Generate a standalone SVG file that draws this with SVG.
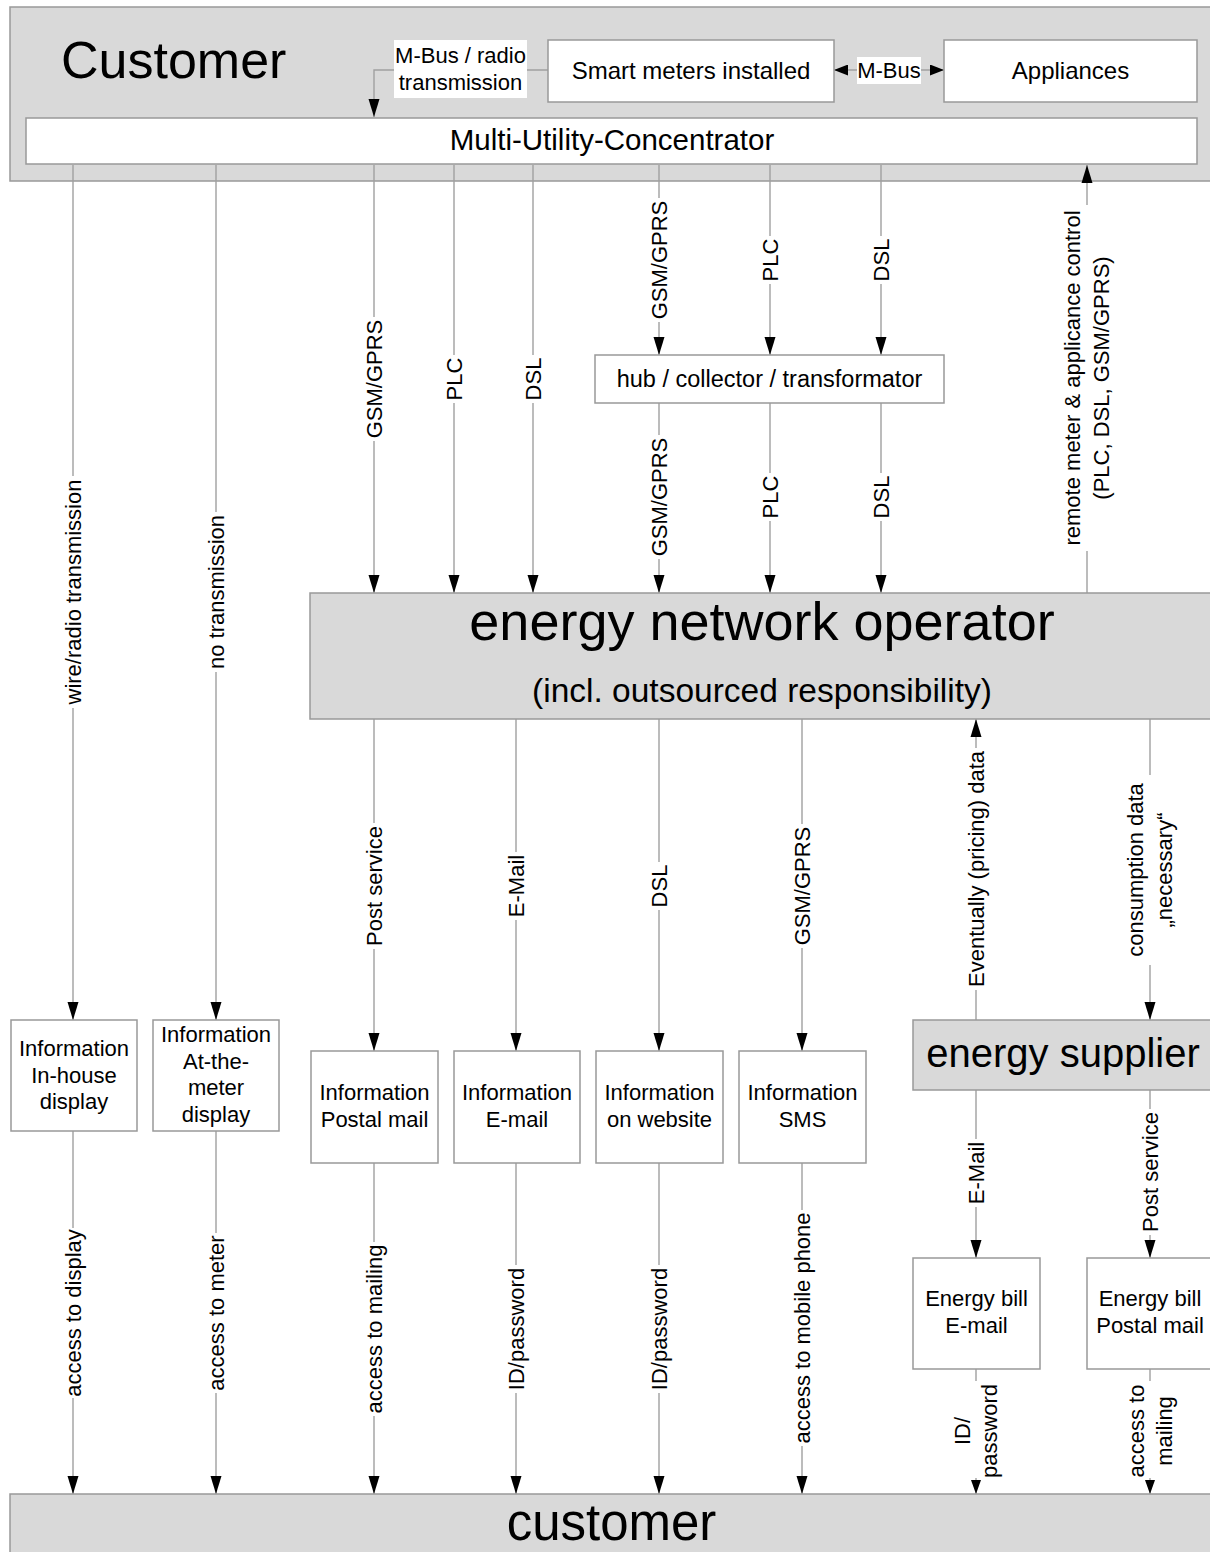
<svg xmlns="http://www.w3.org/2000/svg" width="1210" height="1552" viewBox="0 0 1210 1552">
<defs>
<style>
text{font-family:"Liberation Sans",Arial,sans-serif;fill:#000}
.gb{fill:#d9d9d9;stroke:#999;stroke-width:1.5}
.wb{fill:#fff;stroke:#999;stroke-width:1.5}
.ln{stroke:#a0a0a0;stroke-width:1.4;fill:none}
.ar{marker-end:url(#arr)}
.as{marker-end:url(#arrs)}
.t22{font-size:22px}
.vl{font-size:22px;text-anchor:middle}
.c{text-anchor:middle}
</style>
<marker id="arr" markerUnits="userSpaceOnUse" markerWidth="18" markerHeight="12" refX="18" refY="6" orient="auto"><path d="M0,0.5 L18,6 L0,11.5 z" fill="#000"/></marker>
<marker id="arrs" markerUnits="userSpaceOnUse" markerWidth="14" markerHeight="10" refX="14" refY="5" orient="auto"><path d="M0,0 L14,5 L0,10 z" fill="#000"/></marker>
<marker id="arrm" markerUnits="userSpaceOnUse" markerWidth="14" markerHeight="11" refX="14" refY="5.5" orient="auto-start-reverse"><path d="M0,0 L14,5.5 L0,11 z" fill="#000"/></marker>
</defs>
<rect width="1210" height="1552" fill="#fff"/>

<g id="customer-top">
<rect class="gb" x="10" y="7" width="1210" height="174"/>
<text x="61" y="78" font-size="52">Customer</text>
</g>

<g id="connectors">
<!-- top internal -->
<polyline class="ln ar" points="548,70 374,70 374,117"/>
<line class="ln" x1="834" y1="70" x2="944" y2="70" marker-start="url(#arrm)" marker-end="url(#arrm)"/>
<!-- MUC to bottom-left boxes -->
<line class="ln" x1="73" y1="165" x2="73" y2="476"/><line class="ln ar" x1="73" y1="708" x2="73" y2="1020"/>
<line class="ln" x1="216" y1="165" x2="216" y2="512"/><line class="ln ar" x1="216" y1="672" x2="216" y2="1020"/>
<!-- MUC to ENO -->
<line class="ln" x1="374" y1="165" x2="374" y2="317"/><line class="ln ar" x1="374" y1="441" x2="374" y2="593"/>
<line class="ln" x1="454" y1="165" x2="454" y2="355"/><line class="ln ar" x1="454" y1="403" x2="454" y2="593"/>
<line class="ln" x1="533" y1="165" x2="533" y2="355"/><line class="ln ar" x1="533" y1="403" x2="533" y2="593"/>
<!-- MUC to hub -->
<line class="ln" x1="659" y1="165" x2="659" y2="198"/><line class="ln ar" x1="659" y1="322" x2="659" y2="355"/>
<line class="ln" x1="770" y1="165" x2="770" y2="236"/><line class="ln ar" x1="770" y1="284" x2="770" y2="355"/>
<line class="ln" x1="881" y1="165" x2="881" y2="236"/><line class="ln ar" x1="881" y1="284" x2="881" y2="355"/>
<!-- hub to ENO -->
<line class="ln" x1="659" y1="403" x2="659" y2="435"/><line class="ln ar" x1="659" y1="559" x2="659" y2="593"/>
<line class="ln" x1="770" y1="403" x2="770" y2="473"/><line class="ln ar" x1="770" y1="521" x2="770" y2="593"/>
<line class="ln" x1="881" y1="403" x2="881" y2="473"/><line class="ln ar" x1="881" y1="521" x2="881" y2="593"/>
<!-- remote control ENO to MUC -->
<line class="ln" x1="1087" y1="593" x2="1087" y2="551"/><line class="ln ar" x1="1087" y1="205" x2="1087" y2="165"/>
<!-- ENO to info boxes -->
<line class="ln" x1="374" y1="719" x2="374" y2="823"/><line class="ln ar" x1="374" y1="949" x2="374" y2="1051"/>
<line class="ln" x1="516" y1="719" x2="516" y2="852"/><line class="ln ar" x1="516" y1="920" x2="516" y2="1051"/>
<line class="ln" x1="659" y1="719" x2="659" y2="862"/><line class="ln ar" x1="659" y1="910" x2="659" y2="1051"/>
<line class="ln" x1="802" y1="719" x2="802" y2="824"/><line class="ln ar" x1="802" y1="948" x2="802" y2="1051"/>
<!-- supplier <-> ENO -->
<line class="ln" x1="976" y1="1020" x2="976" y2="990"/><line class="ln ar" x1="976" y1="748" x2="976" y2="719"/>
<line class="ln" x1="1150" y1="719" x2="1150" y2="775"/><line class="ln ar" x1="1150" y1="965" x2="1150" y2="1020"/>
<!-- boxes to customer -->
<line class="ln" x1="73" y1="1131" x2="73" y2="1228"/><line class="ln ar" x1="73" y1="1398" x2="73" y2="1494"/>
<line class="ln" x1="216" y1="1131" x2="216" y2="1233"/><line class="ln ar" x1="216" y1="1393" x2="216" y2="1494"/>
<line class="ln" x1="374" y1="1163" x2="374" y2="1242"/><line class="ln ar" x1="374" y1="1416" x2="374" y2="1494"/>
<line class="ln" x1="516" y1="1163" x2="516" y2="1265"/><line class="ln ar" x1="516" y1="1393" x2="516" y2="1494"/>
<line class="ln" x1="659" y1="1163" x2="659" y2="1265"/><line class="ln ar" x1="659" y1="1393" x2="659" y2="1494"/>
<line class="ln" x1="802" y1="1163" x2="802" y2="1210"/><line class="ln ar" x1="802" y1="1446" x2="802" y2="1494"/>
<!-- supplier to bills -->
<line class="ln" x1="976" y1="1090" x2="976" y2="1139"/><line class="ln ar" x1="976" y1="1207" x2="976" y2="1258"/>
<line class="ln" x1="1150" y1="1090" x2="1150" y2="1109"/><line class="ln ar" x1="1150" y1="1235" x2="1150" y2="1258"/>
<!-- bills to customer -->
<line class="ln" x1="976" y1="1369" x2="976" y2="1381"/><line class="ln as" x1="976" y1="1478" x2="976" y2="1494"/>
<line class="ln" x1="1150" y1="1369" x2="1150" y2="1381"/><line class="ln as" x1="1150" y1="1478" x2="1150" y2="1494"/>
</g>

<g id="connector-labels">
<rect x="394" y="40" width="133" height="58" fill="#fff"/>
<text class="t22 c" x="460.5" y="63">M-Bus / radio</text>
<text class="t22 c" x="460.5" y="90">transmission</text>
<rect x="857" y="57" width="64" height="27" fill="#fff"/>
<text class="t22 c" x="889" y="78">M-Bus</text>

<text class="vl" transform="translate(73,592) rotate(-90)" y="7.9">wire/radio transmission</text>
<text class="vl" transform="translate(216,592) rotate(-90)" y="7.9">no transmission</text>
<text class="vl" transform="translate(374,379) rotate(-90)" y="7.9">GSM/GPRS</text>
<text class="vl" transform="translate(454,379) rotate(-90)" y="7.9">PLC</text>
<text class="vl" transform="translate(533,379) rotate(-90)" y="7.9">DSL</text>
<text class="vl" transform="translate(659,260) rotate(-90)" y="7.9">GSM/GPRS</text>
<text class="vl" transform="translate(770,260) rotate(-90)" y="7.9">PLC</text>
<text class="vl" transform="translate(881,260) rotate(-90)" y="7.9">DSL</text>
<text class="vl" transform="translate(659,497) rotate(-90)" y="7.9">GSM/GPRS</text>
<text class="vl" transform="translate(770,497) rotate(-90)" y="7.9">PLC</text>
<text class="vl" transform="translate(881,497) rotate(-90)" y="7.9">DSL</text>
<text class="vl" transform="translate(1087,378) rotate(-90)"><tspan x="0" y="-6.6">remote meter &amp; applicance control</tspan><tspan x="0" y="22.4">(PLC, DSL, GSM/GPRS)</tspan></text>

<text class="vl" transform="translate(374,886) rotate(-90)" y="7.9">Post service</text>
<text class="vl" transform="translate(516,886) rotate(-90)" y="7.9">E-Mail</text>
<text class="vl" transform="translate(659,886) rotate(-90)" y="7.9">DSL</text>
<text class="vl" transform="translate(802,886) rotate(-90)" y="7.9">GSM/GPRS</text>
<text class="vl" transform="translate(976,869) rotate(-90)" y="7.9">Eventually (pricing) data</text>
<text class="vl" transform="translate(1150,870) rotate(-90)"><tspan x="0" y="-6.6">consumption data</tspan><tspan x="0" y="22.4">„necessary“</tspan></text>

<text class="vl" transform="translate(73,1313) rotate(-90)" y="7.9">access to display</text>
<text class="vl" transform="translate(216,1313) rotate(-90)" y="7.9">access to meter</text>
<text class="vl" transform="translate(374,1329) rotate(-90)" y="7.9">access to mailing</text>
<text class="vl" transform="translate(516,1329) rotate(-90)" y="7.9">ID/password</text>
<text class="vl" transform="translate(659,1329) rotate(-90)" y="7.9">ID/password</text>
<text class="vl" transform="translate(802,1328) rotate(-90)" y="7.9">access to mobile phone</text>
<text class="vl" transform="translate(976,1173) rotate(-90)" y="7.9">E-Mail</text>
<text class="vl" transform="translate(1150,1172) rotate(-90)" y="7.9">Post service</text>
<text class="vl" transform="translate(976,1431) rotate(-90)"><tspan x="0" y="-5.6">ID/</tspan><tspan x="0" y="21.4">password</tspan></text>
<text class="vl" transform="translate(1150,1431) rotate(-90)"><tspan x="0" y="-6.1">access to</tspan><tspan x="0" y="21.9">mailing</tspan></text>
</g>

<g id="smart-meters">
<rect class="wb" x="548" y="40" width="286" height="62"/>
<text class="c" x="691" y="79" font-size="24">Smart meters installed</text>
</g>
<g id="appliances">
<rect class="wb" x="944" y="40" width="253" height="62"/>
<text class="c" x="1070.5" y="79" font-size="24">Appliances</text>
</g>
<g id="muc">
<rect class="wb" x="26" y="118" width="1171" height="46"/>
<text class="c" x="612" y="150" font-size="29.5">Multi-Utility-Concentrator</text>
</g>
<g id="hub">
<rect class="wb" x="595" y="355" width="349" height="48"/>
<text class="c" x="769.5" y="387" font-size="23.5">hub / collector / transformator</text>
</g>
<g id="eno">
<rect class="gb" x="310" y="593" width="910" height="126"/>
<text class="c" x="762" y="640" font-size="54">energy network operator</text>
<text class="c" x="762" y="702" font-size="33.5">(incl. outsourced responsibility)</text>
</g>
<g id="energy-supplier">
<rect class="gb" x="913" y="1020" width="307" height="70"/>
<text class="c" x="1063" y="1067" font-size="40">energy supplier</text>
</g>
<g id="info-inhouse">
<rect class="wb" x="11" y="1020" width="126" height="111"/>
<text class="t22 c"><tspan x="74" y="1056">Information</tspan><tspan x="74" y="1083">In-house</tspan><tspan x="74" y="1109">display</tspan></text>
</g>
<g id="info-meter">
<rect class="wb" x="153" y="1020" width="126" height="111"/>
<text class="t22 c"><tspan x="216" y="1042">Information</tspan><tspan x="216" y="1069">At-the-</tspan><tspan x="216" y="1095">meter</tspan><tspan x="216" y="1122">display</tspan></text>
</g>
<g id="info-postal">
<rect class="wb" x="311" y="1051" width="127" height="112"/>
<text class="t22 c"><tspan x="374.5" y="1100">Information</tspan><tspan x="374.5" y="1127">Postal mail</tspan></text>
</g>
<g id="info-email">
<rect class="wb" x="454" y="1051" width="126" height="112"/>
<text class="t22 c"><tspan x="517" y="1100">Information</tspan><tspan x="517" y="1127">E-mail</tspan></text>
</g>
<g id="info-website">
<rect class="wb" x="596" y="1051" width="127" height="112"/>
<text class="t22 c"><tspan x="659.5" y="1100">Information</tspan><tspan x="659.5" y="1127">on website</tspan></text>
</g>
<g id="info-sms">
<rect class="wb" x="739" y="1051" width="127" height="112"/>
<text class="t22 c"><tspan x="802.5" y="1100">Information</tspan><tspan x="802.5" y="1127">SMS</tspan></text>
</g>
<g id="bill-email">
<rect class="wb" x="913" y="1258" width="127" height="111"/>
<text class="t22 c"><tspan x="976.5" y="1306">Energy bill</tspan><tspan x="976.5" y="1333">E-mail</tspan></text>
</g>
<g id="bill-postal">
<rect class="wb" x="1087" y="1258" width="130" height="111"/>
<text class="t22 c"><tspan x="1150" y="1306">Energy bill</tspan><tspan x="1150" y="1333">Postal mail</tspan></text>
</g>
<g id="customer-bottom">
<rect class="gb" x="10" y="1494" width="1210" height="70"/>
<text class="c" x="611.5" y="1540" font-size="51">customer</text>
</g>
</svg>
